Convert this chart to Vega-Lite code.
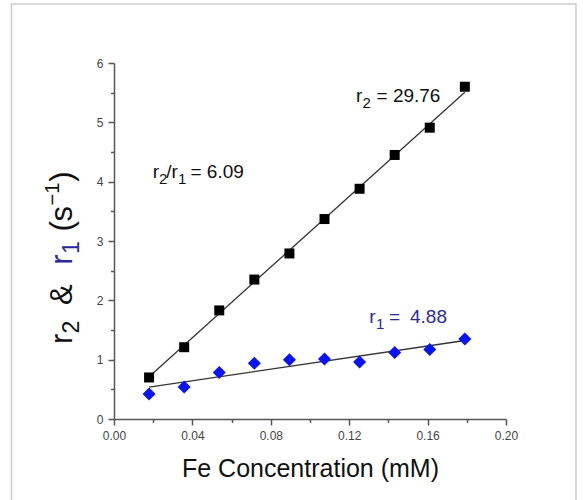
{
  "$schema": "https://vega.github.io/schema/vega-lite/v6.json",
  "width": 392,
  "height": 356,
  "autosize": {"type": "none"},
  "padding": {"left": 114, "top": 63, "right": 77, "bottom": 81},
  "background": "white",
  "config": {"view": {"stroke": null}, "font": "Liberation Sans"},
  "datasets": {
    "pts": [
      {"c": 0.0179, "v": 0.70, "s": "r2"},
      {"c": 0.0358, "v": 1.21, "s": "r2"},
      {"c": 0.0537, "v": 1.83, "s": "r2"},
      {"c": 0.0716, "v": 2.35, "s": "r2"},
      {"c": 0.0895, "v": 2.79, "s": "r2"},
      {"c": 0.1074, "v": 3.37, "s": "r2"},
      {"c": 0.1253, "v": 3.88, "s": "r2"},
      {"c": 0.1432, "v": 4.45, "s": "r2"},
      {"c": 0.1611, "v": 4.91, "s": "r2"},
      {"c": 0.179, "v": 5.60, "s": "r2"},
      {"c": 0.0179, "v": 0.42, "s": "r1"},
      {"c": 0.0358, "v": 0.54, "s": "r1"},
      {"c": 0.0537, "v": 0.785, "s": "r1"},
      {"c": 0.0716, "v": 0.94, "s": "r1"},
      {"c": 0.0895, "v": 1.00, "s": "r1"},
      {"c": 0.1074, "v": 1.01, "s": "r1"},
      {"c": 0.1253, "v": 0.96, "s": "r1"},
      {"c": 0.1432, "v": 1.12, "s": "r1"},
      {"c": 0.1611, "v": 1.17, "s": "r1"},
      {"c": 0.179, "v": 1.35, "s": "r1"}
    ],
    "fit": [
      {"c": 0.0179, "v": 0.713, "s": "r2"},
      {"c": 0.179, "v": 5.507, "s": "r2"},
      {"c": 0.0179, "v": 0.537, "s": "r1"},
      {"c": 0.179, "v": 1.323, "s": "r1"}
    ],
    "notes": [
      {"t": "r", "c": 0.12347, "v": 5.348, "role": "m", "col": "k"},
      {"t": "2", "c": 0.12679, "v": 5.348, "role": "s", "col": "k"},
      {"t": "= 29.76", "c": 0.13393, "v": 5.348, "role": "m", "col": "k"},
      {"t": "r", "c": 0.01974, "v": 4.062, "role": "m", "col": "k"},
      {"t": "2", "c": 0.02296, "v": 4.062, "role": "s", "col": "k"},
      {"t": "/r", "c": 0.02663, "v": 4.062, "role": "m", "col": "k"},
      {"t": "1", "c": 0.03265, "v": 4.062, "role": "s", "col": "k"},
      {"t": "= 6.09", "c": 0.03903, "v": 4.062, "role": "m", "col": "k"},
      {"t": "r", "c": 0.13026, "v": 1.613, "role": "m", "col": "b"},
      {"t": "1", "c": 0.13367, "v": 1.613, "role": "s", "col": "b"},
      {"t": "=", "c": 0.14031, "v": 1.613, "role": "m", "col": "b"},
      {"t": "4.88", "c": 0.15102, "v": 1.613, "role": "m", "col": "b"},
      {"t": "r", "c": -0.0215, "v": 1.264, "role": "tm", "col": "k"},
      {"t": "2", "c": -0.0215, "v": 1.44, "role": "ts", "col": "k"},
      {"t": "&", "c": -0.0215, "v": 1.92, "role": "tm", "col": "k"},
      {"t": "r", "c": -0.0215, "v": 2.6, "role": "tm", "col": "b"},
      {"t": "1", "c": -0.0215, "v": 2.78, "role": "ts", "col": "b"},
      {"t": "(", "c": -0.0215, "v": 3.16, "role": "tm", "col": "k"},
      {"t": "s", "c": -0.0215, "v": 3.33, "role": "tm", "col": "k"},
      {"t": "−1", "c": -0.0215, "v": 3.6, "role": "tp", "col": "k"},
      {"t": ")", "c": -0.0215, "v": 4.0, "role": "tm", "col": "k"}
    ],
    "frame": [
      {"c": -0.0523, "c2": 0.2357, "v": -1.5, "v2": 6.996}
    ]
  },
  "encoding": {
    "x": {
      "field": "c", "type": "quantitative",
      "scale": {"domain": [0, 0.2], "nice": false, "zero": false},
      "axis": {
        "title": "Fe Concentration (mM)",
        "values": [0, 0.02, 0.04, 0.06, 0.08, 0.1, 0.12, 0.14, 0.16, 0.18, 0.2],
        "labelExpr": "round(datum.value*100) % 4 == 0 ? format(datum.value, '.2f') : ''",
        "tickSize": {"condition": {"test": "round(datum.value*100) % 4 != 0", "value": 3.5}, "value": 6},
        "grid": false,
        "domainColor": "#555555", "domainWidth": 1.5,
        "tickColor": "#555555", "tickWidth": 1.5,
        "labelColor": "#444444", "labelFont": "Liberation Sans", "labelFontSize": 12, "labelPadding": 5,
        "labelOverlap": false, "labelFlush": false, "labelBound": false,
        "titleFont": "Liberation Sans", "titleFontSize": 25, "titleFontWeight": "normal", "titleColor": "#111111", "titlePadding": 15
      }
    },
    "y": {
      "field": "v", "type": "quantitative",
      "scale": {"domain": [0, 6], "nice": false},
      "axis": {
        "title": null,
        "values": [0, 0.5, 1, 1.5, 2, 2.5, 3, 3.5, 4, 4.5, 5, 5.5, 6],
        "labelExpr": "datum.value % 1 == 0 ? format(datum.value, 'd') : ''",
        "tickSize": {"condition": {"test": "datum.value % 1 != 0", "value": 3.5}, "value": 6},
        "grid": false,
        "domainColor": "#555555", "domainWidth": 1.5,
        "tickColor": "#555555", "tickWidth": 1.5,
        "labelColor": "#444444", "labelFont": "Liberation Sans", "labelFontSize": 12, "labelPadding": 5,
        "labelOverlap": false, "labelFlush": false, "labelBound": false
      }
    }
  },
  "layer": [
    {
      "data": {"name": "fit"},
      "mark": {"type": "line", "color": "#333333", "strokeWidth": 1.3},
      "encoding": {"detail": {"field": "s", "type": "nominal"}}
    },
    {
      "data": {"name": "pts"},
      "transform": [{"filter": "datum.s == 'r2'"}],
      "mark": {"type": "point", "shape": "square", "filled": true, "size": 100, "color": "#000000", "opacity": 1}
    },
    {
      "data": {"name": "pts"},
      "transform": [{"filter": "datum.s == 'r1'"}],
      "mark": {"type": "point", "shape": "diamond", "filled": true, "size": 170, "color": "#0a14f0", "opacity": 1}
    },
    {
      "data": {"name": "notes"},
      "transform": [{"filter": "datum.role == 'm'"}],
      "mark": {"type": "text", "align": "left", "baseline": "alphabetic", "fontSize": 19, "font": "Liberation Sans"},
      "encoding": {
        "text": {"field": "t"},
        "color": {"field": "col", "type": "nominal", "scale": {"domain": ["k", "b"], "range": ["#111111", "#2a2a9a"]}, "legend": null}
      }
    },
    {
      "data": {"name": "notes"},
      "transform": [{"filter": "datum.role == 's'"}],
      "mark": {"type": "text", "align": "left", "baseline": "alphabetic", "fontSize": 15, "dy": 6, "font": "Liberation Sans"},
      "encoding": {
        "text": {"field": "t"},
        "color": {"field": "col", "type": "nominal", "scale": {"domain": ["k", "b"], "range": ["#111111", "#2a2a9a"]}, "legend": null}
      }
    },
    {
      "data": {"name": "notes"},
      "transform": [{"filter": "datum.role == 'tm'"}],
      "mark": {"type": "text", "align": "left", "baseline": "alphabetic", "angle": 270, "fontSize": 31, "font": "Liberation Sans"},
      "encoding": {
        "text": {"field": "t"},
        "color": {"field": "col", "type": "nominal", "scale": {"domain": ["k", "b"], "range": ["#111111", "#2a2a9a"]}, "legend": null}
      }
    },
    {
      "data": {"name": "notes"},
      "transform": [{"filter": "datum.role == 'ts'"}],
      "mark": {"type": "text", "align": "left", "baseline": "alphabetic", "angle": 270, "fontSize": 23, "dy": 7, "font": "Liberation Sans"},
      "encoding": {
        "text": {"field": "t"},
        "color": {"field": "col", "type": "nominal", "scale": {"domain": ["k", "b"], "range": ["#111111", "#2a2a9a"]}, "legend": null}
      }
    },
    {
      "data": {"name": "notes"},
      "transform": [{"filter": "datum.role == 'tp'"}],
      "mark": {"type": "text", "align": "left", "baseline": "alphabetic", "angle": 270, "fontSize": 20, "dy": -13, "font": "Liberation Sans"},
      "encoding": {
        "text": {"field": "t"},
        "color": {"field": "col", "type": "nominal", "scale": {"domain": ["k", "b"], "range": ["#111111", "#2a2a9a"]}, "legend": null}
      }
    },
    {
      "data": {"name": "frame"},
      "mark": {"type": "rect", "fill": null, "fillOpacity": 0, "stroke": "#cccccc", "strokeWidth": 1.5},
      "encoding": {
        "x2": {"field": "c2"},
        "y2": {"field": "v2"}
      }
    }
  ]
}
